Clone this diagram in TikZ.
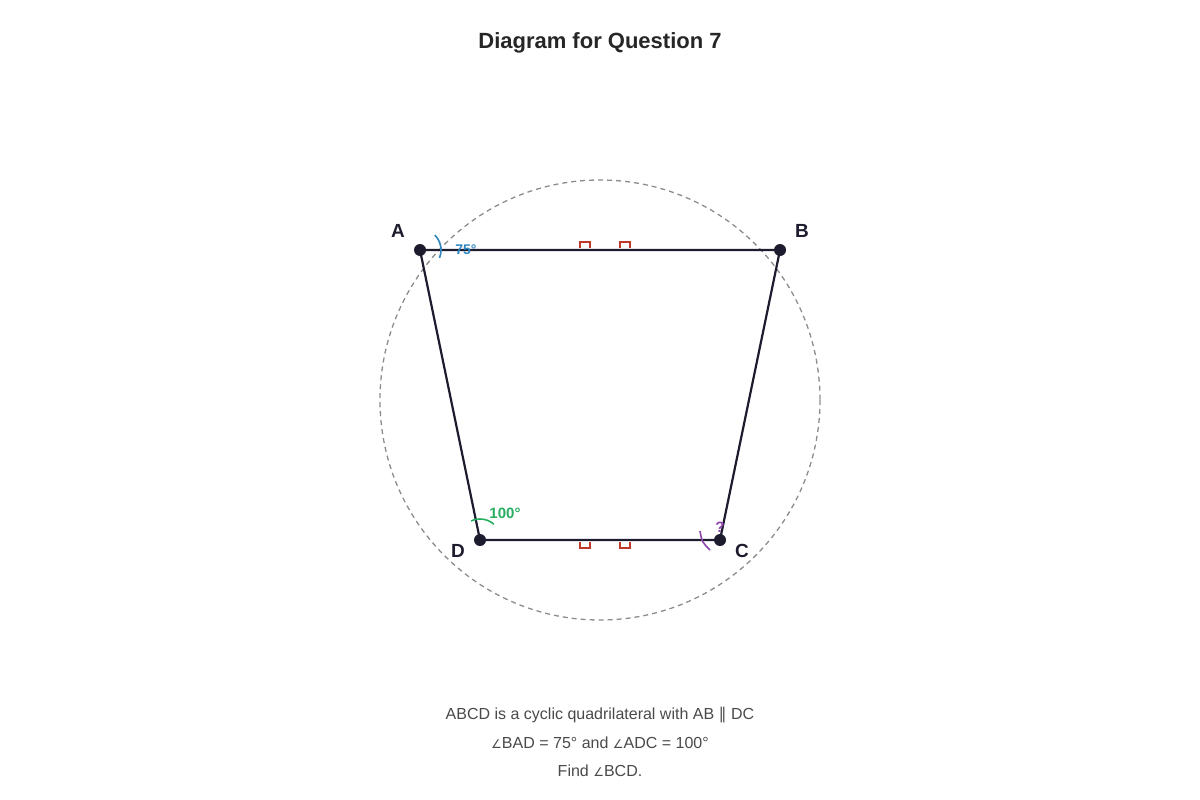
\documentclass[tikz,border=0pt]{standalone}
\usepackage{fontspec}
\setmainfont{Liberation Sans}
\newfontfamily\symfont{DejaVu Sans}
\definecolor{ink}{HTML}{1C1C2E}
\definecolor{capgrey}{HTML}{4A4A4A}
\definecolor{angblue}{HTML}{2E86C1}
\definecolor{anggreen}{HTML}{27AE60}
\definecolor{angpurple}{HTML}{8E44AD}
\definecolor{tickred}{HTML}{C0392B}
\tikzset{
  side/.style={ink, line width=2.2pt},
  vertex/.style={circle, fill=ink, inner sep=0pt, minimum size=12pt},
  vlabel/.style={font=\fontsize{19}{22}\selectfont\bfseries, text=ink},
  angmark/.style={line width=1.6pt},
  partick/.style={tickred, line width=1.5pt},
  caption/.style={font=\fontsize{16}{19}\selectfont, text=capgrey}
}
\newcommand{\ang}{{\symfont\fontsize{12}{14}\selectfont ∠}}
\begin{document}
\begin{tikzpicture}[x=1pt, y=-1pt]
  \useasboundingbox (0,0) rectangle (1200,800);
  \node[font=\fontsize{22}{26}\selectfont\bfseries, text=black!85] (title) at (600,43) {Diagram for Question 7};

  % Circumcircle
  \coordinate (O) at (600,400);
  \draw[gray!90, line width=1.3pt, dash pattern=on 5pt off 4pt] (O) circle (220);

  % Vertices
  \coordinate (A) at (420,250);
  \coordinate (B) at (780,250);
  \coordinate (C) at (720,540);
  \coordinate (D) at (480,540);
  \draw[side] (A) -- (B) -- (C) -- (D) -- cycle;

  % Parallel marks
  \foreach \x in {585,625} {
    \draw[partick] (\x-5,248) -- (\x-5,242) -- (\x+5,242) -- (\x+5,248);
    \draw[partick] (\x-5,542) -- (\x-5,548) -- (\x+5,548) -- (\x+5,542);
  }

  % Angles
  \draw[angmark, angblue] ([shift={(-45:21)}]A) arc (-45:22:21);
  \node[font=\fontsize{14}{16}\selectfont\bfseries, text=angblue] (a75) at (466,250) {75°};
  \draw[angmark, anggreen] ([shift={(245:21)}]D) arc (245:311:21);
  \node[font=\fontsize{15}{17}\selectfont\bfseries, text=anggreen] (d100) at (505,513) {100°};
  \draw[angmark, angpurple] ([shift={(-20,-9)}]C) .. controls ([shift={(-18,2)}]C) .. ([shift={(-10,10)}]C);
  \node[font=\fontsize{15}{17}\selectfont\bfseries, text=angpurple] (cq) at (720,527) {?};

  \foreach \p in {A,B,C,D}
    \node[vertex] (v\p) at (\p) {};
  \node[vlabel] (lA) at (398,231) {A};
  \node[vlabel] (lB) at (802,231) {B};
  \node[vlabel] (lC) at (742,551) {C};
  \node[vlabel] (lD) at (458,551) {D};

  % Caption
  \node[caption] (cap1) at (600,715) {ABCD is a cyclic quadrilateral with AB {\symfont ∥} DC};
  \node[caption] (cap2) at (600,743) {\ang BAD = 75° and \ang ADC = 100°};
  \node[caption] (cap3) at (600,771) {Find \ang BCD.};
\end{tikzpicture}
\end{document}
